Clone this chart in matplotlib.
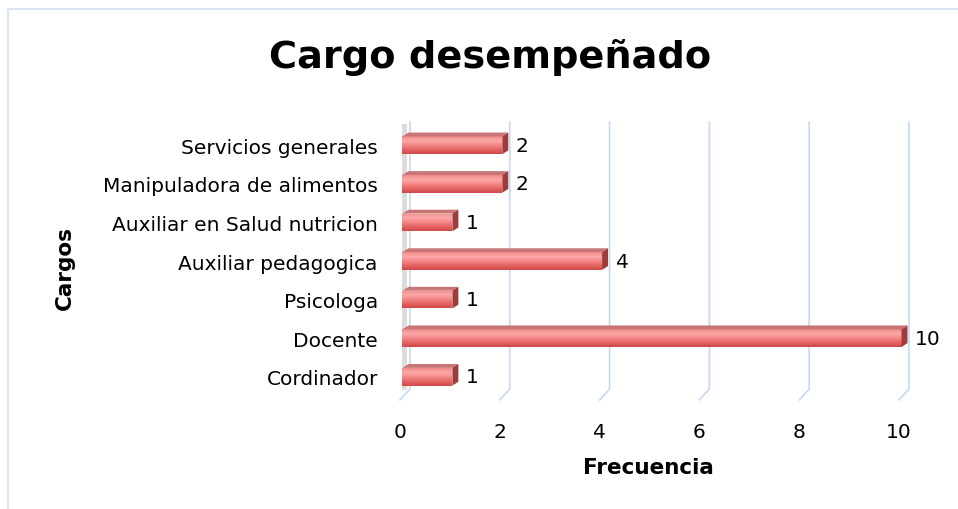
import numpy as np
import matplotlib.pyplot as plt
from matplotlib.patches import Polygon, Rectangle
from matplotlib.colors import LinearSegmentedColormap

cargos = ["Cordinador", "Docente", "Psicologa", "Auxiliar pedagogica",
          "Auxiliar en Salud nutricion", "Manipuladora de alimentos",
          "Servicios generales"]
frecuencia = [1, 10, 1, 4, 1, 2, 2]
xticks = [0, 2, 4, 6, 8, 10]

fig = plt.figure(figsize=(9.58, 5.1), dpi=100)
ax = fig.add_axes([400 / 958, 1 - 397 / 510, 508 / 958, 270 / 510])

# chart border: only left and top are visible in the picture
bx, by = 8 / 958, 1 - 10 / 510
fig.add_artist(plt.Line2D([bx, bx, 1.0], [0.0, by, by], transform=fig.transFigure,
                          color="#d5e2f3", linewidth=1.3))

ax.set_xlim(0, 10.18)
ax.set_ylim(-0.5, 6.5)
for s in ax.spines.values():
    s.set_visible(False)

# 3d-style grid lines
dx = 0.2
for x in xticks:
    ax.plot([x + dx, x + dx, x], [6.6, -0.32, -0.6], color="#c6d9f1",
            linewidth=1.2, clip_on=False, zorder=1)

# left wall shadow
ax.add_patch(Rectangle((0.04, -0.35), 0.1, 6.9, facecolor="#dcdcdc",
                       edgecolor="none", zorder=1.5, clip_on=False))

cmap = LinearSegmentedColormap.from_list(
    "bar", ["#f08a8a", "#fba8a8", "#f48888", "#e66464", "#cf4a4a"])
grad = np.linspace(0, 1, 64).reshape(-1, 1)

h = 0.46
top = 0.1
for i, v in enumerate(frecuencia):
    y0 = i - h / 2
    body = Rectangle((0.05, y0), v, h, facecolor="#e66a6a", edgecolor="none", zorder=3)
    ax.add_patch(body)
    im = ax.imshow(grad, cmap=cmap, aspect="auto", origin="upper",
                   extent=[0.05, v + 0.05, y0, y0 + h], zorder=3.1)
    im.set_clip_path(body)
    # top face
    ax.add_patch(Polygon([[0.05, y0 + h], [v + 0.05, y0 + h],
                          [v + 0.05 + 0.12, y0 + h + top], [0.05 + 0.12, y0 + h + top]],
                         closed=True, facecolor="#c97575", edgecolor="none", zorder=3.2))
    # side face
    ax.add_patch(Polygon([[v + 0.05, y0], [v + 0.05, y0 + h],
                          [v + 0.05 + 0.12, y0 + h + top], [v + 0.05 + 0.12, y0 + top]],
                         closed=True, facecolor="#9e3c3c", edgecolor="none", zorder=3.2))
    ax.text(v + 0.32, i, str(v), va="center", ha="left", fontsize=14.5, zorder=4)

ax.set_yticks(range(len(cargos)))
ax.set_yticklabels(cargos, fontsize=14.5)
ax.set_xticks(xticks)
ax.set_xticklabels([str(t) for t in xticks], fontsize=14.5)
ax.tick_params(axis="y", length=0, pad=16)
ax.tick_params(axis="x", length=0, pad=19)

ax.set_xlabel("Frecuencia", fontsize=15.5, fontweight="bold")
ax.set_ylabel("Cargos", fontsize=15.5, fontweight="bold")
ax.xaxis.set_label_coords((648 - 400) / 508, -(468 - 397) / 270)
ax.yaxis.set_label_coords((65 - 400) / 508, (397 - 268) / 270)
ax.xaxis.label.set_va("center")
ax.yaxis.label.set_va("center")

fig.text(490 / 958, 1 - 57 / 510, "Cargo desempeñado", ha="center", va="center",
         fontsize=27.5, fontweight="bold")

fig.savefig("out.png", dpi=100)
